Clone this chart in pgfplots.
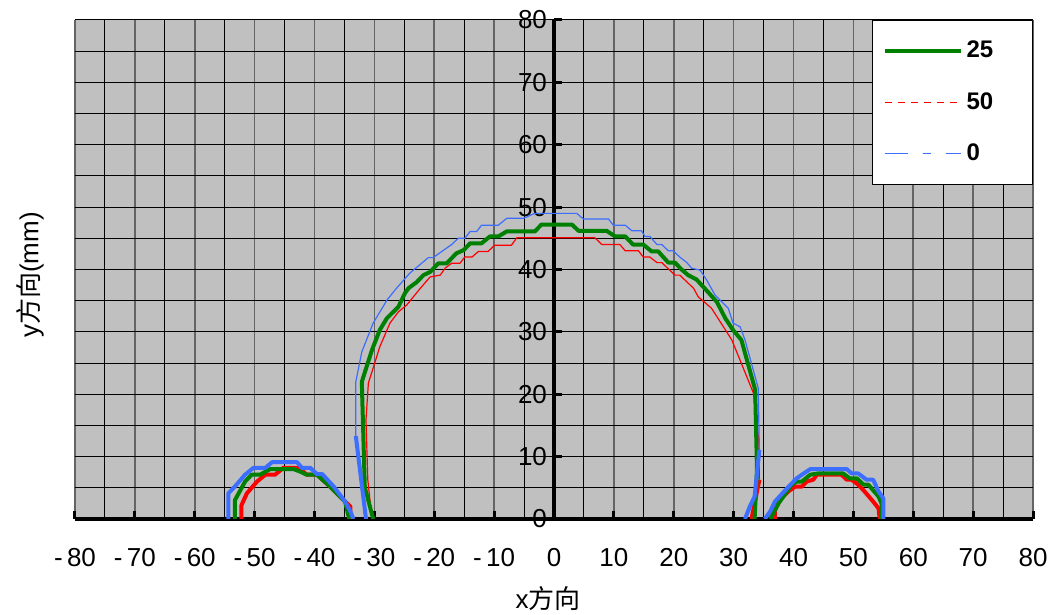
\documentclass[border=0pt]{standalone}
\usepackage{fontspec}
\setmainfont{Liberation Sans}
\newfontfamily\cjk{Noto Sans CJK SC}
\usepackage{pgfplots}
\pgfplotsset{compat=1.18}
\definecolor{bg}{RGB}{192,192,192}
\definecolor{majgrid}{RGB}{100,100,100}
\definecolor{cgreen}{RGB}{0,128,0}
\definecolor{cred}{RGB}{255,0,0}
\definecolor{cblue}{RGB}{60,110,255}
\begin{document}
\begin{tikzpicture}[x=1pt,y=1pt]
\useasboundingbox (0,0) rectangle (525.5,307.5);
\begin{axis}[
  at={(37.5pt,48pt)}, anchor=south west,
  scale only axis, width=479pt, height=249.5pt,
  xmin=-80, xmax=80, ymin=0, ymax=80,
  axis background/.style={fill=bg},
  axis x line=bottom, axis y line=middle,
  axis line style={-, line width=2pt, black},
  hide obscured x ticks=false, hide obscured y ticks=false,
  xtick={-80,-70,...,80}, ytick={0,10,...,80},
  minor xtick={-75,-65,...,75}, minor ytick={5,15,...,75},
  xticklabels={-\,80,-\,70,-\,60,-\,50,-\,40,-\,30,-\,20,-\,10,0,10,20,30,40,50,60,70,80},
  grid=both,
  major x grid style={majgrid, line width=0.8pt},
  minor x grid style={black, line width=0.5pt},
  major y grid style={black, line width=0.5pt},
  minor y grid style={black, line width=0.5pt},
  minor tick length=0pt, major tick length=4pt,
  tick align=inside,
  tick style={black, line width=1.5pt},
  /pgf/number format/assume math mode=true,
  tick label style={font=\fontsize{13}{15}\selectfont},
  xticklabel style={yshift=-11pt},
  legend image code/.code={\draw[#1] (0pt,0pt) -- (38pt,0pt);},
  legend style={at={(1,1)}, anchor=north east, draw=black, line width=0.5pt, fill=white,
    inner xsep=5pt, inner ysep=8.2pt, row sep=11.9pt,
    font=\fontsize{12}{14}\selectfont\bfseries},
  legend cell align=left,
  line join=round,
]
\addlegendimage{draw=cgreen, line width=2pt}
\addlegendentry{\makebox[26pt][l]{25}}
\addlegendimage{draw=cred, line width=0.6pt, dash pattern=on 3.5pt off 3pt}
\addlegendentry{\makebox[26pt][l]{50}}
\addlegendimage{draw=cblue, line width=0.6pt, dash pattern=on 11.5pt off 7.5pt on 4pt off 7.5pt}
\addlegendentry{\makebox[26pt][l]{0}}

% ---- red (50) ----
\addplot[cred, line width=0.6pt, forget plot] coordinates {
(-30.4,0) (-31.1,6.3) (-31.4,15.9) (-31.0,21.8) (-30.4,23.6) (-29.1,27.6) (-27.4,31.4)
(-26.0,33.2) (-24.6,34.3) (-22.4,36.9) (-20.7,38.8) (-19.0,39.1) (-18.2,40.2) (-17.1,41.0)
(-15.7,41.0) (-14.9,42.0) (-13.7,42.0) (-12.6,42.9) (-11.0,42.9) (-9.9,43.9) (-7.1,43.9)
(-6.2,45.1) (6.8,45.1) (8.0,44.0) (11.0,44.0) (11.9,43.0) (14.1,43.0) (14.9,42.0) (16.0,42.0)
(17.2,41.1) (18.0,41.1) (20.2,39.1) (21.0,39.1) (23.3,37.0) (24.1,35.6) (26.3,33.8)
(28.3,30.8) (29.7,28.7) (33.3,20.2) (34.2,12.7) (34.3,6.3)};
\addplot[cred, line width=2pt, forget plot] coordinates {(34.3,6.3) (33.1,0.6) (33.0,0)};
\addplot[cred, line width=2pt, forget plot] coordinates {
(-52.2,0) (-52.2,2.2) (-51.3,4.1) (-49.6,6.0) (-48.2,7.1) (-46.6,7.1) (-45.2,8.2) (-42.6,8.2)
(-41.3,7.1) (-39.6,7.1) (-37.4,5.2) (-34.9,2.8) (-34.0,2.0) (-34.0,0)};
\addplot[cred, line width=2pt, forget plot] coordinates {
(36.9,0) (36.9,1.4) (37.7,3.0) (39.1,4.4) (40.3,5.2) (41.4,5.2) (42.2,6.0) (43.3,6.3)
(43.9,7.1) (48.0,7.1) (48.9,6.3) (49.7,6.3) (50.8,5.5) (51.7,4.6) (53.3,2.8) (54.2,1.7) (54.4,0)};

% ---- green (25) ----
\addplot[cgreen, line width=2pt, forget plot] coordinates {
(-30.2,0) (-31.6,5.1) (-32.1,22.0) (-30.4,27.1) (-29.1,30.3) (-27.9,32.2) (-26.0,34.0)
(-24.9,36.2) (-24.3,37.0) (-22.9,38.0) (-21.8,39.1) (-20.7,39.6) (-19.3,41.0) (-17.9,41.0)
(-16.3,42.6) (-15.1,43.1) (-14.0,44.2) (-12.1,44.2) (-10.7,45.3) (-9.3,45.3) (-7.9,46.1)
(-3.2,46.1) (-2.1,47.2) (3.0,47.2) (4.1,46.2) (8.8,46.2) (10.2,45.3) (11.9,45.3) (13.2,44.0)
(14.9,44.0) (16.3,42.9) (17.4,42.9) (19.1,41.1) (20.2,41.1) (21.3,40.0) (22.4,39.1)
(23.8,38.4) (25.8,36.3) (27.2,34.8) (28.6,32.2) (29.9,30.3) (31.3,28.7) (33.6,20.7)
(33.9,7.9) (33.5,0)};
\addplot[cgreen, line width=2pt, forget plot] coordinates {
(-53.3,0) (-53.3,3.0) (-51.6,6.0) (-50.5,7.1) (-49.1,7.1) (-47.4,8.0) (-43.5,8.0) (-42.4,7.6)
(-41.3,7.1) (-39.6,7.1) (-37.4,5.2) (-34.9,2.8) (-34.2,0)};
\addplot[cgreen, line width=2pt, forget plot] coordinates {
(36.1,0) (37.5,2.5) (39.7,5.5) (40.5,6.0) (41.4,6.0) (42.8,7.1) (44.1,7.3) (48.3,7.3)
(49.4,6.5) (50.6,6.5) (51.7,5.5) (52.5,5.5) (54.2,3.6) (54.7,2.5) (54.7,0)};

% ---- blue (0) ----
\addplot[cblue, line width=0.6pt, forget plot] coordinates {
(-33.1,13.3) (-33.1,22.0) (-32.1,26.8) (-30.2,31.4) (-27.9,35.1) (-26.3,37.0) (-24.1,39.4)
(-21.0,41.9) (-20.2,41.9) (-17.1,44.0) (-16.0,45.0) (-14.9,45.0) (-14.0,46.1) (-12.9,46.1)
(-12.1,47.1) (-9.3,47.1) (-7.9,48.2) (-5.1,48.2) (-3.2,49.0) (3.8,49.0) (4.9,48.1) (9.1,48.1)
(9.9,47.1) (11.9,47.1) (13.0,46.2) (14.6,46.2) (15.2,45.3) (16.0,45.3) (17.2,44.0) (18.0,44.0)
(19.1,43.0) (19.9,43.0) (21.0,42.0) (22.2,41.1) (23.0,40.2) (24.4,39.9) (25.5,38.3)
(26.9,35.9) (29.1,33.8) (29.9,31.4) (31.1,30.8) (31.9,28.7) (34.1,21.0) (34.3,11.1)};
\addplot[cblue, line width=2pt, forget plot] coordinates {(-33.1,13.3) (-31.4,0)};
\addplot[cblue, line width=2pt, forget plot] coordinates {(34.3,11.1) (33.5,3.6) (32.7,2.0) (31.9,0)};
\addplot[cblue, line width=2pt, forget plot] coordinates {
(-54.4,0) (-54.4,4.1) (-53.3,5.2) (-51.6,7.1) (-50.2,8.2) (-48.2,8.2) (-47.1,9.1) (-42.9,9.1)
(-42.1,8.2) (-40.7,8.2) (-39.6,7.2) (-38.7,7.2) (-36.8,5.2) (-34.9,2.8) (-34.0,1.2) (-33.5,0)};
\addplot[cblue, line width=2pt, forget plot] coordinates {
(35.2,0) (36.1,1.2) (36.9,2.8) (38.9,4.9) (40.5,6.5) (41.4,7.1) (42.8,8.0) (48.9,8.0)
(49.7,7.3) (50.8,7.3) (52.2,6.3) (53.3,6.3) (54.2,4.4) (55.0,3.3) (55.0,0)};
\end{axis}
\node[rotate=90, font=\fontsize{13}{15}\selectfont] at (15,170) {y{\cjk 方向}(mm)};
\node[font=\fontsize{13}{15}\selectfont] at (274,8) {x{\cjk 方向}};
\end{tikzpicture}
\end{document}
